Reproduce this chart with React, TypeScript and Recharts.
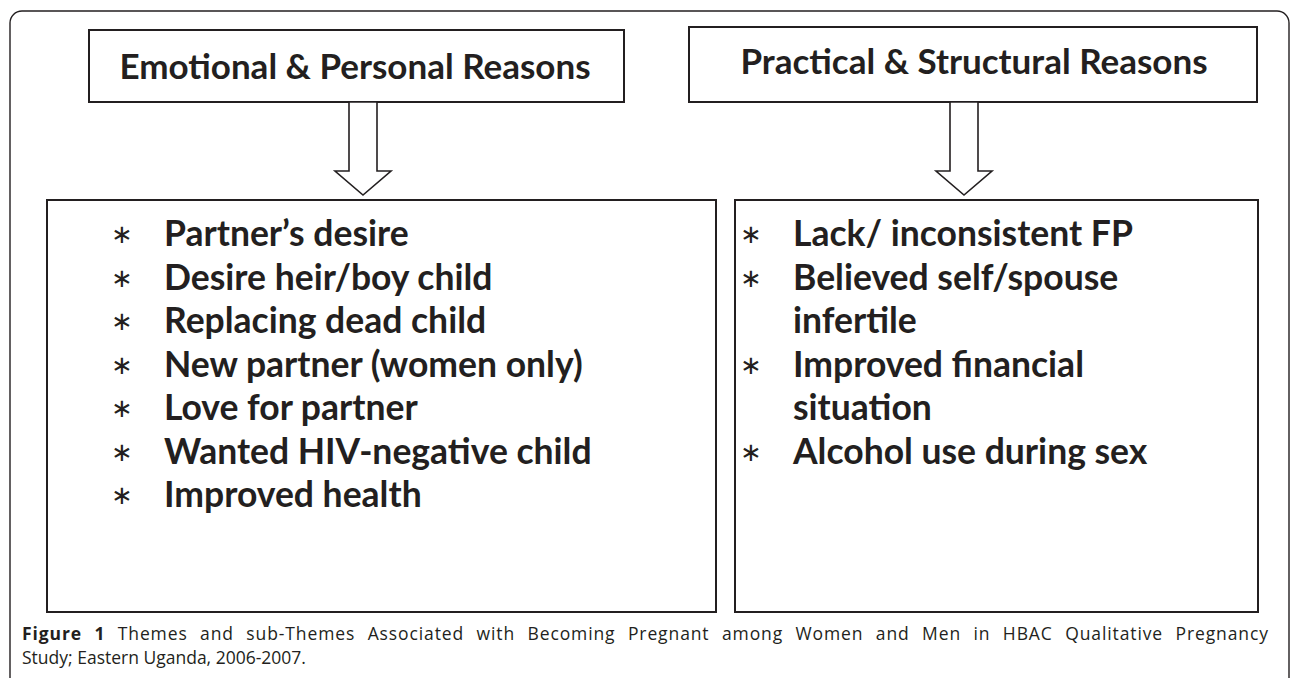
import { ScatterChart, Scatter, XAxis, YAxis, ReferenceArea } from 'recharts'

// 画布尺寸（像素 = 数据单位）
const W = 1290
const H = 678
const INK = '#231f20'

// 外框、标题框、列表框
const outerFrame = [{ x1: 10, x2: 1289, y1: 11, y2: 700 }]
const headerBoxes = [
  { x1: 89, x2: 624, y1: 30, y2: 102 },
  { x1: 689, x2: 1257, y1: 27, y2: 102 }
]
const listBoxes = [
  { x1: 47, x2: 716, y1: 200, y2: 612 },
  { x1: 735, x2: 1258, y1: 200, y2: 612 }
]

// 标题文字
const headers = [
  { x: 355, y: 79, text: 'Emotional & Personal Reasons' },
  { x: 974, y: 74, text: 'Practical & Structural Reasons' }
]

// 箭头（顶端与尖端）
const arrows = [
  { x: 363, y: 195, top: 102 },
  { x: 964, y: 195, top: 102 }
]

// 行基线
const rowY = [246, 290, 333, 377, 420, 464, 507]

const leftItems = [
  'Partner\u2019s desire',
  'Desire heir/boy child',
  'Replacing dead child',
  'New partner (women only)',
  'Love for partner',
  'Wanted HIV-negative child',
  'Improved health'
]

const rightItems = [
  { text: 'Lack/ inconsistent FP', bullet: true },
  { text: 'Believed self/spouse', bullet: true },
  { text: 'infertile', bullet: false },
  { text: 'Improved financial', bullet: true },
  { text: 'situation', bullet: false },
  { text: 'Alcohol use during sex', bullet: true }
]

const captionBold = 'Figure 1'
const captionLine1 = ' Themes and sub-Themes Associated with Becoming Pregnant among Women and Men in HBAC Qualitative Pregnancy'
const captionLine2 = 'Study; Eastern Uganda, 2006-2007.'

// 生成文本点
const leftBullets = leftItems.map((_, i) => ({ x: 122, y: rowY[i] }))
const leftTexts = leftItems.map((t, i) => ({ x: 164, y: rowY[i], text: t }))
const rightBullets = rightItems.filter(r => r.bullet).map(r => ({ x: 751, y: rowY[rightItems.indexOf(r)] }))
const rightTexts = rightItems.map((r, i) => ({ x: 793, y: rowY[i], text: r.text }))
const caption = [{ x: 22, y: 640 }]
const caption2 = [{ x: 22, y: 664, text: captionLine2 }]

const boldFont = 'Lato, "Open Sans", sans-serif'
const capFont = '"Open Sans", "Noto Sans", sans-serif'

const HeaderText = (p: any) => (
  <text x={p.cx} y={p.cy} textAnchor="middle" fontFamily={boldFont} fontWeight={700} fontSize={35} fill={INK}>
    {p.payload.text}
  </text>
)

const ItemText = (p: any) => (
  <text x={p.cx} y={p.cy} fontFamily={boldFont} fontWeight={700} fontSize={35.5} fill={INK}>
    {p.payload.text}
  </text>
)

const Bullet = (p: any) => (
  <text x={p.cx} y={p.cy - 3} textAnchor="middle" fontFamily='"DejaVu Sans", sans-serif' fontSize={26} fill={INK}>
    {'\u2217'}
  </text>
)

const Arrow = (p: any) => {
  const { cx, cy } = p
  const top = cy - (p.payload.y - p.payload.top)
  const shaft = 14
  const head = 28
  const headH = 24
  const pts = [
    [cx - shaft, top],
    [cx + shaft, top],
    [cx + shaft, cy - headH],
    [cx + head, cy - headH],
    [cx, cy],
    [cx - head, cy - headH],
    [cx - shaft, cy - headH]
  ]
  return (
    <polygon points={pts.map(q => q.join(',')).join(' ')} fill="#fff" stroke={INK} strokeWidth={1.6} />
  )
}

const CaptionText = (p: any) => (
  <text x={p.cx} y={p.cy} fontFamily={capFont} fontSize={17.5} fill={INK} textLength={1246}
    lengthAdjust="spacing" style={{ wordSpacing: 7 }}>
    <tspan fontWeight={700}>{captionBold}</tspan>
    <tspan>{captionLine1}</tspan>
  </text>
)

const CaptionText2 = (p: any) => (
  <text x={p.cx} y={p.cy} fontFamily={capFont} fontSize={17.5} fill={INK}>
    {p.payload.text}
  </text>
)

export default function App() {
  return (
    <div style={{ position: 'absolute', left: 0, top: 0, width: W, height: H, background: '#fff' }}>
      <ScatterChart width={W} height={H} margin={{ top: 0, right: 0, bottom: 0, left: 0 }}>
        <XAxis type="number" dataKey="x" domain={[0, W]} hide />
        <YAxis type="number" dataKey="y" domain={[0, H]} reversed hide />
        {outerFrame.map((b, i) => (
          <ReferenceArea key={'o' + i} x1={b.x1} x2={b.x2} y1={b.y1} y2={b.y2} ifOverflow="visible"
            fill="none" fillOpacity={0} stroke={INK} strokeWidth={1.4} radius={12} />
        ))}
        {headerBoxes.map((b, i) => (
          <ReferenceArea key={'h' + i} x1={b.x1} x2={b.x2} y1={b.y1} y2={b.y2}
            fill="#fff" fillOpacity={1} stroke={INK} strokeWidth={2} />
        ))}
        {listBoxes.map((b, i) => (
          <ReferenceArea key={'l' + i} x1={b.x1} x2={b.x2} y1={b.y1} y2={b.y2}
            fill="#fff" fillOpacity={1} stroke={INK} strokeWidth={2} />
        ))}
        <Scatter data={arrows} shape={Arrow} isAnimationActive={false} />
        <Scatter data={headers} shape={HeaderText} isAnimationActive={false} />
        <Scatter data={leftBullets} shape={Bullet} isAnimationActive={false} />
        <Scatter data={leftTexts} shape={ItemText} isAnimationActive={false} />
        <Scatter data={rightBullets} shape={Bullet} isAnimationActive={false} />
        <Scatter data={rightTexts} shape={ItemText} isAnimationActive={false} />
        <Scatter data={caption} shape={CaptionText} isAnimationActive={false} />
        <Scatter data={caption2} shape={CaptionText2} isAnimationActive={false} />
      </ScatterChart>
    </div>
  )
}
